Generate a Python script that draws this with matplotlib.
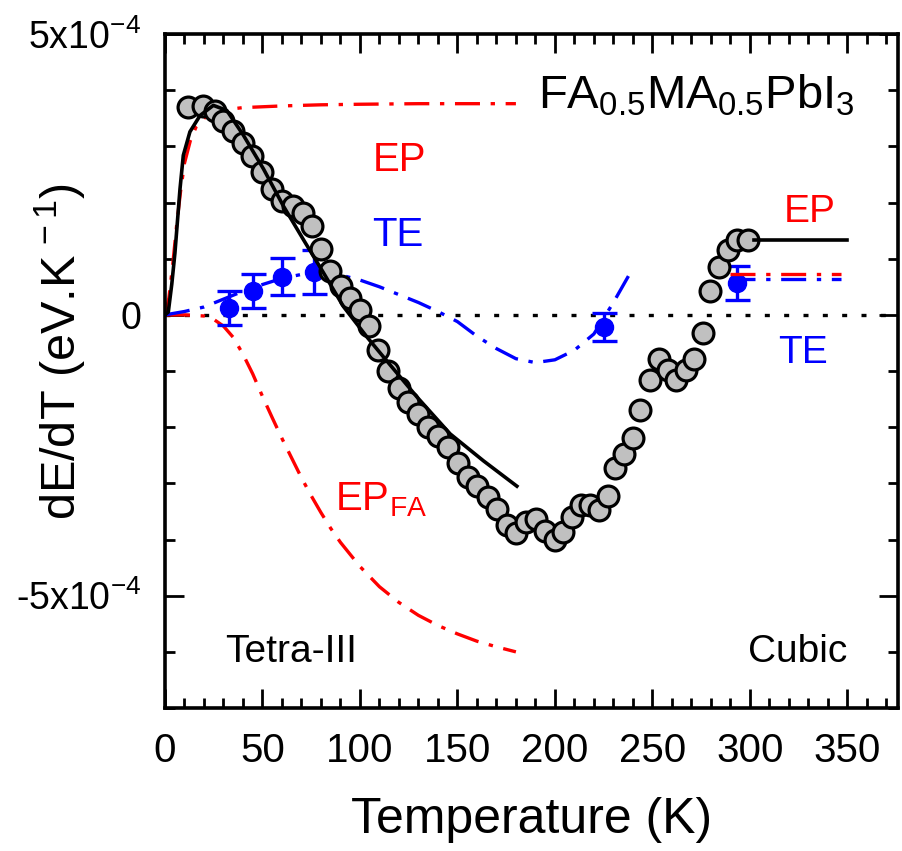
import numpy as np
import matplotlib
matplotlib.use("Agg")
import matplotlib.pyplot as plt
from matplotlib.ticker import MultipleLocator, FixedLocator, FixedFormatter

plt.rcParams['font.family'] = ['Liberation Sans', 'DejaVu Sans']
plt.rcParams['mathtext.fontset'] = 'custom'
plt.rcParams['mathtext.rm'] = 'Liberation Sans'
plt.rcParams['mathtext.it'] = 'Liberation Sans:italic'
plt.rcParams['mathtext.bf'] = 'Liberation Sans:bold'

SCALE = 1e-4

# Experimental dE/dT (grey circles), in units of 1e-4 eV/K
exp_T = [12.0, 19.7, 25.7, 29.6, 34.7, 39.9, 44.8, 49.9, 55.1, 59.9, 65.9, 70.7,
         75.3, 79.9, 84.7, 90.3, 95.0, 100.1, 104.4, 109.5, 114.3, 119.8, 124.6,
         129.7, 134.7, 140.0, 145.1, 150.1, 155.2, 160.3, 165.5, 170.3, 175.4,
         180.0, 185.2, 190.3, 195.1, 200.2, 204.0, 208.8, 213.2, 218.2, 222.5,
         227.1, 231.0, 235.6, 239.9, 243.8, 249.0, 253.2, 258.1, 262.3, 267.1,
         271.2, 275.8, 279.8, 284.0, 288.8, 293.5, 299.1]
exp_v = [3.70, 3.72, 3.63, 3.46, 3.27, 3.06, 2.83, 2.54, 2.24, 2.03, 1.93, 1.81,
         1.58, 1.18, 0.78, 0.51, 0.30, 0.09, -0.20, -0.62, -1.00, -1.31, -1.55,
         -1.77, -1.99, -2.15, -2.36, -2.64, -2.88, -3.05, -3.24, -3.45, -3.75,
         -3.89, -3.69, -3.63, -3.84, -4.01, -3.87, -3.60, -3.39, -3.39, -3.48,
         -3.23, -2.72, -2.48, -2.19, -1.69, -1.16, -0.78, -0.99, -1.16, -0.99,
         -0.78, -0.32, 0.43, 0.85, 1.15, 1.34, 1.33]

# Thermal expansion contribution (blue points with error bars)
te_T = [32.9, 45.0, 59.9, 76.5, 225.1, 293.5]
te_v = [0.12, 0.43, 0.68, 0.76, -0.21, 0.57]
te_err = [0.30, 0.30, 0.33, 0.39, 0.25, 0.30]

# Total model (black solid), tetragonal phase
tot_T = [0, 1.7, 3.5, 5.1, 7.7, 9.4, 12.8, 18.0, 24.8, 31.7, 40.2, 50.5, 60.7,
         71.0, 81.3, 91.5, 103.5, 112.1, 129.2, 146.3, 163.4, 180.5]
tot_v = [0, 0.05, 0.55, 1.10, 2.24, 2.84, 3.26, 3.55, 3.73, 3.64, 3.20, 2.60,
         1.94, 1.34, 0.75, 0.15, -0.39, -0.75, -1.46, -2.12, -2.60, -3.05]
# Total model, cubic phase
totc_T = [302, 350]
totc_v = [1.34, 1.34]

# Electron-phonon (red dash-dot), tetragonal
ep_T = [0, 2, 4, 6, 8, 10, 13, 16, 20, 25, 30, 40, 60, 80, 100, 130, 160, 180]
ep_v = [0, 0.3, 0.9, 1.6, 2.2, 2.7, 3.1, 3.35, 3.5, 3.6, 3.65, 3.69, 3.72,
        3.74, 3.75, 3.76, 3.76, 3.76]
# Electron-phonon, cubic
epc_T = [290, 347]
epc_v = [0.73, 0.73]

# EP_FA (red dash-dot, negative)
epfa_T = [0, 10, 20, 25, 30, 35, 40, 45, 50, 55, 60, 65, 70, 75, 80, 85, 90,
          100, 110, 120, 130, 140, 150, 160, 170, 180]
epfa_v = [0, 0, -0.02, -0.08, -0.20, -0.40, -0.70, -1.05, -1.45, -1.83, -2.20,
          -2.55, -2.90, -3.22, -3.52, -3.80, -4.05, -4.48, -4.84, -5.12, -5.35,
          -5.53, -5.68, -5.81, -5.91, -6.00]

# Thermal expansion model (blue dash-dot)
tem_T = [0, 10, 20, 30, 40, 50, 60, 70, 80, 90, 100, 110, 120, 130, 140, 150,
         160, 170, 180, 190, 200, 210, 220, 230, 240]
tem_v = [0, 0.06, 0.14, 0.28, 0.42, 0.54, 0.65, 0.72, 0.74, 0.71, 0.62, 0.50,
         0.36, 0.22, 0.06, -0.12, -0.38, -0.60, -0.78, -0.85, -0.80, -0.63,
         -0.34, 0.22, 0.83]
temc_T = [290, 347]
temc_v = [0.63, 0.63]

def s(v):
    return np.asarray(v) * SCALE

fig = plt.figure(figsize=(9.02, 8.51), dpi=100)
ax = fig.add_axes([0.1829, 0.168, 0.8127, 0.792])

RED = '#ff0000'
BLUE = '#0000ff'
dd = (7.5, 3.2, 1.3, 3.2)
LW = 2.4

ax.plot([0, 376], [0, 0], color='black', lw=2.4, dashes=(1.5, 4.3), zorder=1)

ax.plot(ep_T, s(ep_v), color=RED, lw=LW, dashes=dd, zorder=2)
ax.plot(epc_T, s(epc_v), color=RED, lw=LW, dashes=dd, zorder=6)
ax.plot(epfa_T, s(epfa_v), color=RED, lw=LW, dashes=dd, zorder=2)
ax.plot(tem_T, s(tem_v), color=BLUE, lw=LW, dashes=dd, zorder=2)
ax.plot(temc_T, s(temc_v), color=BLUE, lw=LW, dashes=dd, zorder=2)

ax.errorbar(te_T, s(te_v), yerr=s(te_err), fmt='o', color=BLUE, ms=13,
            elinewidth=2.4, capsize=9, capthick=2.4, zorder=3)

ax.plot(exp_T, s(exp_v), 'o', ms=15, mfc='#c0c0c0', mec='black', mew=2.3,
        zorder=4)

ax.plot(tot_T, s(tot_v), color='black', lw=2.6, zorder=5)
ax.plot(totc_T, s(totc_v), color='black', lw=2.6, zorder=5)

ax.set_xlim(0, 376)
ax.set_ylim(-7e-4, 5e-4)

ax.xaxis.set_major_locator(MultipleLocator(50))
ax.xaxis.set_minor_locator(MultipleLocator(10))
ax.yaxis.set_major_locator(FixedLocator([-5e-4, 0, 5e-4]))
ax.yaxis.set_major_formatter(FixedFormatter([r'-5x10$^{-4}$', '0', r'5x10$^{-4}$']))
ax.yaxis.set_minor_locator(MultipleLocator(1e-4))

ax.tick_params(which='both', direction='in', top=True, right=True, width=2)
ax.tick_params(which='major', length=14)
ax.tick_params(which='minor', length=7)
ax.tick_params(axis='x', which='major', pad=17, labelsize=29)
ax.tick_params(axis='y', which='major', pad=17, labelsize=27)
for sp in ax.spines.values():
    sp.set_linewidth(2.6)

ax.set_xlabel('Temperature (K)', fontsize=36, labelpad=20)
fig.text(60 / 902, 1 - 352 / 851, r'dE/dT (eV.K$^{\,-1}$)', fontsize=35,
         rotation=90, ha='center', va='center')

ax.text(191.5, 3.67e-4, r'FA$_{0.5}$MA$_{0.5}$PbI$_{3}$', fontsize=34,
        ha='left', va='baseline')
ax.text(106.8, 2.56e-4, 'EP', color=RED, fontsize=29, ha='left', va='baseline')
ax.text(106.3, 1.22e-4, 'TE', color=BLUE, fontsize=29, ha='left', va='baseline')
ax.text(317.2, 1.65e-4, 'EP', color=RED, fontsize=28, ha='left', va='baseline')
ax.text(314.7, -0.86e-4, 'TE', color=BLUE, fontsize=28, ha='left', va='baseline')
ax.text(87.3, -3.49e-4, r'EP$_{\mathrm{FA}}$', color=RED, fontsize=29,
        ha='left', va='baseline')
ax.text(30.8, -6.18e-4, 'Tetra-III', fontsize=28, ha='left', va='baseline')
ax.text(350.1, -6.18e-4, 'Cubic', fontsize=28, ha='right', va='baseline')

fig.savefig('out.png', dpi=100)
